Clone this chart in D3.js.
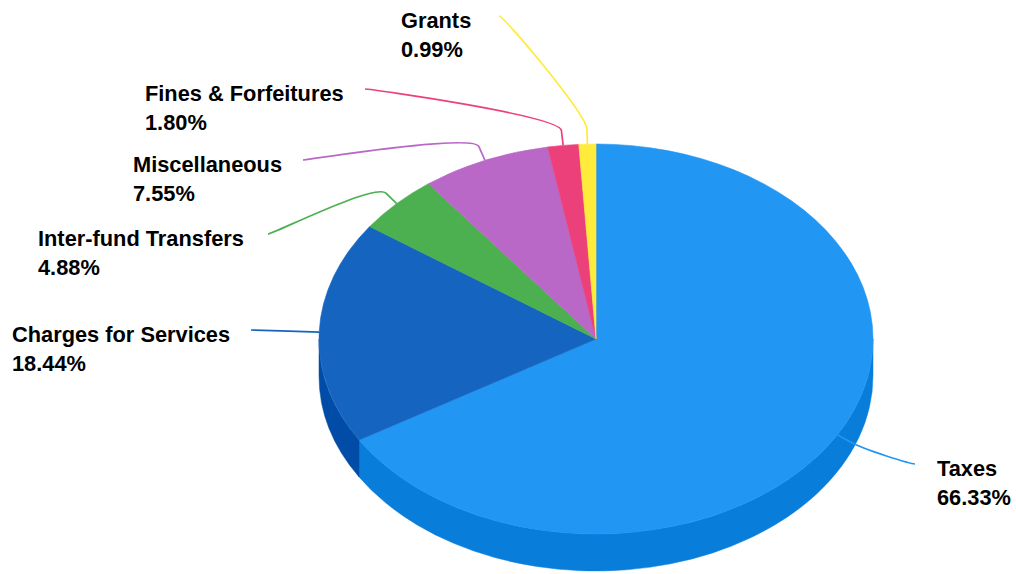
<!DOCTYPE html>
<html>
<head>
<meta charset="utf-8">
<script src="https://cdn.jsdelivr.net/npm/d3@7"></script>
<style>
  html, body { margin: 0; padding: 0; background: #ffffff; }
  svg { display: block; }
</style>
</head>
<body>
<svg id="chart" width="1016" height="574"></svg>
<script>
// ---- Data -------------------------------------------------------------
const categories = ["Taxes", "Charges for Services", "Inter-fund Transfers", "Miscellaneous", "Fines & Forfeitures", "Grants"];
const shares = [66.33, 18.44, 4.88, 7.55, 1.80, 0.99];
const percentLabels = ["66.33%", "18.44%", "4.88%", "7.55%", "1.80%", "0.99%"];
const sliceColors = ["#2196F3", "#1565C0", "#4CAF50", "#BA68C8", "#EC407A", "#FFEB3B"];

// ---- Layout -----------------------------------------------------------
const cx = 596, cy = 339;        // pie centre
const rx = 277, ry = 195;        // radii of the tilted top face
const depth = 37;                // thickness of the disc
const breakOffset = 15;          // distance of the connector bend from the rim
const lineGap = 28.5;            // distance between the two label lines

// text position (left x, first baseline) and connector start x for each label
const labelLayout = [
  { x: 937, y: 476, lineX: 915, side: "right" },
  { x: 12,  y: 342, lineX: 251, side: "left" },
  { x: 38,  y: 246, lineX: 268, side: "left" },
  { x: 133, y: 172, lineX: 303, side: "left" },
  { x: 145, y: 101, lineX: 365, side: "left" },
  { x: 401, y: 28,  lineX: 499, side: "left" }
];

// darker shade for the outer wall of each slice
function shade(hex, amount) {
  const c = d3.rgb(hex);
  const k = 255 * amount;
  return d3.rgb(
    Math.max(0, Math.min(255, c.r + k)),
    Math.max(0, Math.min(255, c.g + k)),
    Math.max(0, Math.min(255, c.b + k))
  ).formatHex();
}

const svg = d3.select("#chart");

const pie = d3.pie().sort(null).value(d => d).startAngle(0).endAngle(2 * Math.PI);
const arcs = pie(shares).map((a, i) => Object.assign(a, { i }));

// angle (clockwise from 12 o'clock) -> point on the tilted rim
const rim = (a, z = 0) => [cx + rx * Math.sin(a), cy - ry * Math.cos(a) + z];

// ---- Outer walls (only the half that faces the viewer) -----------------
const frontStart = Math.PI / 2, frontEnd = 3 * Math.PI / 2;
const walls = svg.append("g").attr("class", "walls");
arcs.forEach(a => {
  const s = Math.max(a.startAngle, frontStart);
  const e = Math.min(a.endAngle, frontEnd);
  if (e <= s) return;
  const p0 = rim(s), p1 = rim(e), p2 = rim(e, depth), p3 = rim(s, depth);
  const path = `M${p0[0]},${p0[1]} A${rx},${ry} 0 0 1 ${p1[0]},${p1[1]} ` +
               `L${p2[0]},${p2[1]} A${rx},${ry} 0 0 0 ${p3[0]},${p3[1]} Z`;
  const col = shade(sliceColors[a.i], -0.1);
  walls.append("path").attr("d", path).attr("fill", col)
    .attr("stroke", col).attr("stroke-width", 0.5);
});

// ---- Top face ---------------------------------------------------------
const arcGen = d3.arc().innerRadius(0).outerRadius(rx);
svg.append("g")
  .attr("class", "top")
  .attr("transform", `translate(${cx},${cy}) scale(1,${ry / rx})`)
  .selectAll("path")
  .data(arcs)
  .join("path")
  .attr("d", arcGen)
  .attr("fill", d => sliceColors[d.i])
  .attr("stroke", d => sliceColors[d.i])
  .attr("stroke-width", 0.6)
  .attr("vector-effect", "non-scaling-stroke");

// ---- Connectors -------------------------------------------------------
const connectors = svg.append("g").attr("class", "connectors");
arcs.forEach(a => {
  const L = labelLayout[a.i];
  const mid = (a.startAngle + a.endAngle) / 2;
  const touch = rim(mid);
  const brk = [touch[0] + breakOffset * Math.sin(mid), touch[1] - breakOffset * Math.cos(mid)];
  const start = [L.lineX, L.y - 12];
  const c1 = [start[0] + (L.side === "left" ? 5 : -5), start[1]];
  const c2 = [2 * brk[0] - touch[0], 2 * brk[1] - touch[1]];
  const path = d3.path();
  path.moveTo(start[0], start[1]);
  path.bezierCurveTo(c1[0], c1[1], c2[0], c2[1], brk[0], brk[1]);
  path.lineTo(touch[0], touch[1]);
  connectors.append("path")
    .attr("d", path.toString())
    .attr("fill", "none")
    .attr("stroke", sliceColors[a.i])
    .attr("stroke-width", 1.7);
});

// ---- Labels -----------------------------------------------------------
const labels = svg.append("g").attr("class", "labels")
  .attr("font-family", "'Liberation Sans', Arial, Helvetica, sans-serif")
  .attr("font-weight", "bold")
  .attr("font-size", 21.8)
  .attr("fill", "#000000");

arcs.forEach(a => {
  const L = labelLayout[a.i];
  const t = labels.append("text").attr("x", L.x).attr("y", L.y);
  t.append("tspan").attr("x", L.x).text(categories[a.i]);
  t.append("tspan").attr("x", L.x).attr("dy", lineGap).text(percentLabels[a.i]);
});
</script>
</body>
</html>
